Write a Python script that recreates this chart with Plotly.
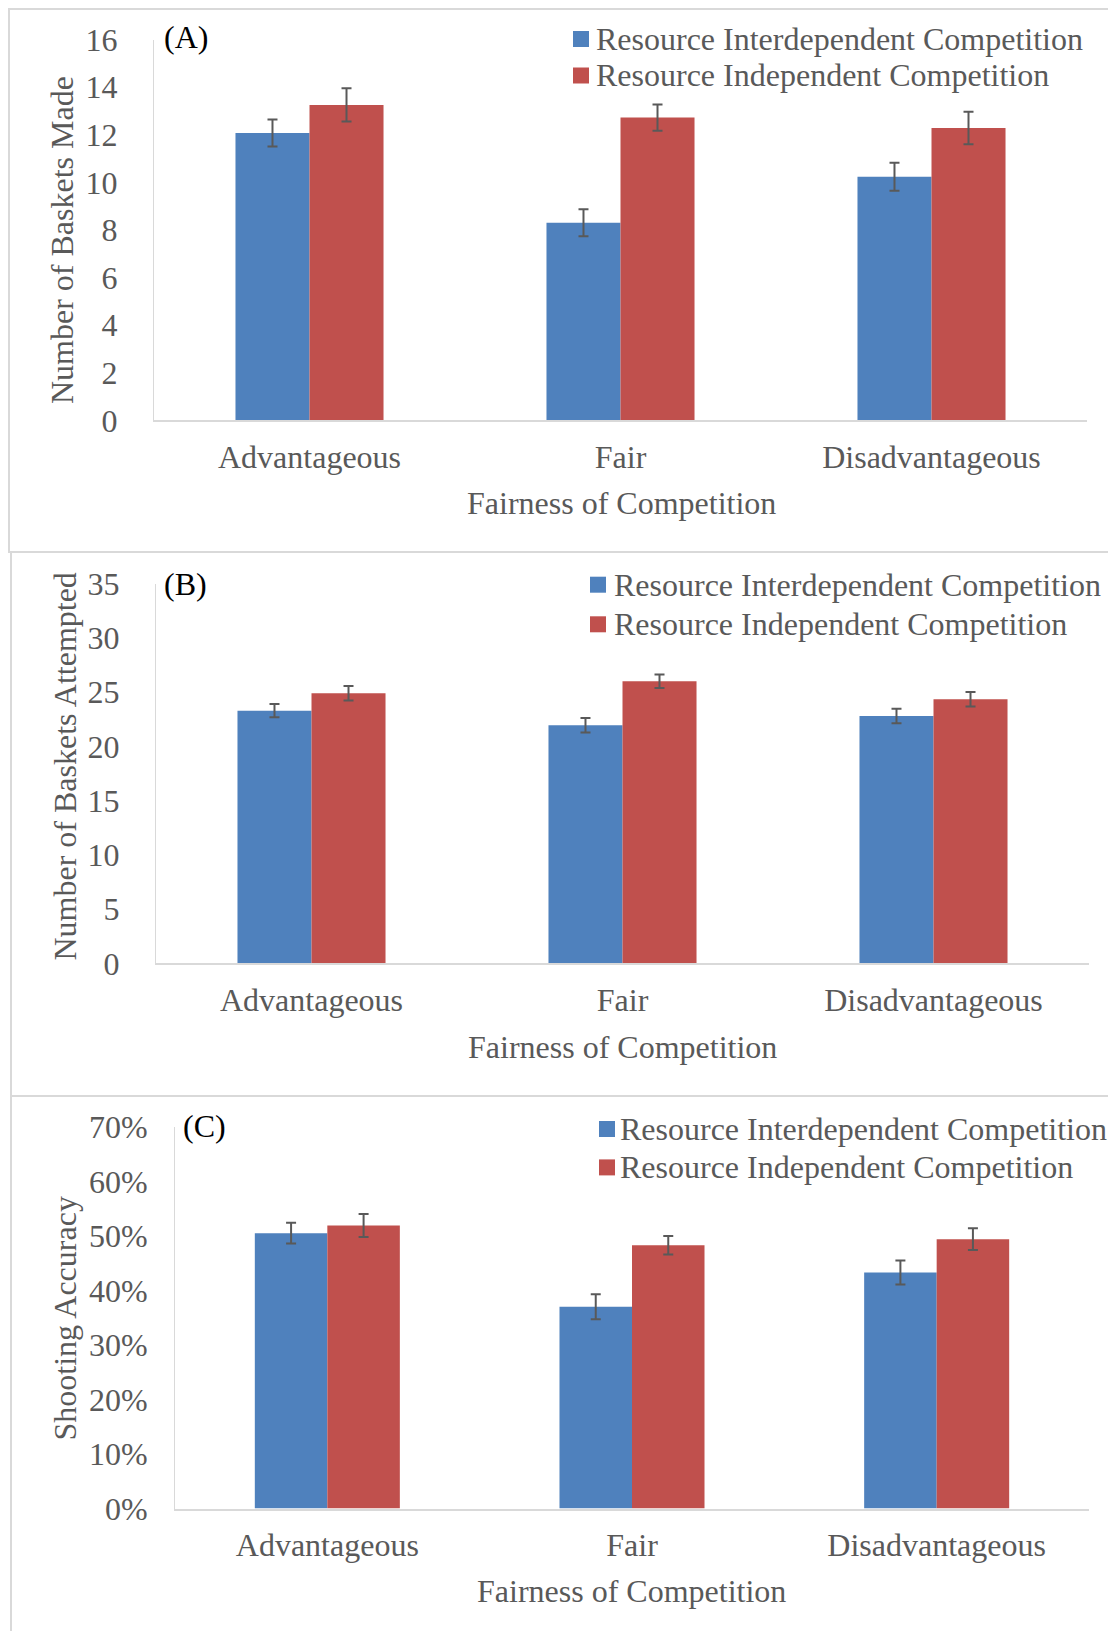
import plotly.graph_objects as go

# ---- data -------------------------------------------------------------
categories = ["Advantageous", "Fair", "Disadvantageous"]
series_names = ["Resource Interdependent Competition", "Resource Independent Competition"]
panel_labels = ["(A)", "(B)", "(C)"]
y_titles = ["Number of Baskets Made", "Number of Baskets Attempted", "Shooting Accuracy"]
x_title = "Fairness of Competition"

made_interdep = [12.07, 8.30, 10.23]
made_interdep_err = [0.57, 0.57, 0.59]
made_indep = [13.25, 12.72, 12.28]
made_indep_err = [0.70, 0.55, 0.68]

attempted_interdep = [23.3, 21.96, 22.8]
attempted_interdep_err = [0.6, 0.67, 0.67]
attempted_indep = [24.9, 26.0, 24.35]
attempted_indep_err = [0.67, 0.62, 0.67]

accuracy_interdep = [50.5, 37.0, 43.3]      # percent
accuracy_interdep_err = [1.9, 2.3, 2.2]
accuracy_indep = [51.9, 48.3, 49.4]
accuracy_indep_err = [2.1, 1.7, 2.0]

y_max = [16, 35, 70]
y_dtick = [2, 5, 10]
y_suffix = ["", "", "%"]

# ---- styling ----------------------------------------------------------
W, H = 1108, 1631
FONT = "Liberation Serif, Times New Roman, serif"
FS = 32
TEXT_GRAY = "#595959"
AXIS_GRAY = "#d9d9d9"
BLUE = "#4F81BD"
RED = "#C0504D"
COLORS = [BLUE, RED]


def px(x):
    return x / W


def py(y):
    return 1 - y / H


# plot-area boxes in pixels: (left, right, top, bottom)
boxes = [
    (154, 1087, 39.5, 420.3),
    (156, 1089, 583.7, 963.4),
    (175, 1089, 1126.8, 1508.6),
]
ytick_standoff = [29, 29, 20]

panels = [
    (made_interdep, made_interdep_err, made_indep, made_indep_err),
    (attempted_interdep, attempted_interdep_err, attempted_indep, attempted_indep_err),
    (accuracy_interdep, accuracy_interdep_err, accuracy_indep, accuracy_indep_err),
]

fig = go.Figure()

for i, (v1, e1, v2, e2) in enumerate(panels):
    suffix = "" if i == 0 else str(i + 1)
    for vals, errs, name, color in [(v1, e1, series_names[0], COLORS[0]),
                                    (v2, e2, series_names[1], COLORS[1])]:
        fig.add_trace(go.Bar(
            x=categories, y=vals, name=name,
            marker=dict(color=color, line=dict(width=0)),
            error_y=dict(type="data", array=errs, visible=True,
                         color=TEXT_GRAY, thickness=2, width=5),
            xaxis="x" + suffix, yaxis="y" + suffix,
            showlegend=False,
        ))

    left, right, top, bottom = boxes[i]
    fig.layout["xaxis" + suffix] = dict(
        domain=[px(left), px(right)], anchor="y" + suffix, automargin=False,
        showline=True, linecolor=AXIS_GRAY, linewidth=2,
        showgrid=False, zeroline=False, ticks="",
        tickfont=dict(family=FONT, size=FS, color=TEXT_GRAY),
        ticklabelstandoff=7,
    )
    fig.layout["yaxis" + suffix] = dict(
        domain=[py(bottom), py(top)], anchor="x" + suffix, automargin=False,
        range=[0, y_max[i]], dtick=y_dtick[i], ticksuffix=y_suffix[i],
        showline=True, linecolor=AXIS_GRAY, linewidth=1,
        showgrid=False, zeroline=False, ticks="",
        tickfont=dict(family=FONT, size=FS, color=TEXT_GRAY),
        ticklabelstandoff=ytick_standoff[i],
    )

# ---- titles, panel letters, legends -----------------------------------
annotations = []
y_title_pos = [(62, 240), (64.5, 767), (64.5, 1319)]
x_title_pos = [(621, 502.5), (622, 1046.6), (631.5, 1591)]
letter_pos = [(162, 37), (162, 583.5), (181, 1125.5)]
legend_swatch_x = [573, 590, 599]
legend_text_x = [594, 612, 618]
legend_rows = [(39, 75.5), (584.7, 624.3), (1129, 1167.4)]
SW = 16

shapes = []
for i in range(3):
    annotations.append(dict(
        x=px(y_title_pos[i][0]), y=py(y_title_pos[i][1]), xref="paper", yref="paper",
        text=y_titles[i], textangle=-90, showarrow=False,
        font=dict(family=FONT, size=FS, color=TEXT_GRAY),
        xanchor="center", yanchor="middle"))
    annotations.append(dict(
        x=px(x_title_pos[i][0]), y=py(x_title_pos[i][1]), xref="paper", yref="paper",
        text=x_title, showarrow=False,
        font=dict(family=FONT, size=FS, color=TEXT_GRAY),
        xanchor="center", yanchor="middle"))
    annotations.append(dict(
        x=px(letter_pos[i][0]), y=py(letter_pos[i][1]), xref="paper", yref="paper",
        text=panel_labels[i], showarrow=False,
        font=dict(family=FONT, size=FS, color="black"),
        xanchor="left", yanchor="middle"))
    for k in range(2):
        cy = legend_rows[i][k]
        sx = legend_swatch_x[i]
        shapes.append(dict(
            type="rect", xref="paper", yref="paper",
            x0=px(sx), x1=px(sx + SW), y0=py(cy + SW / 2), y1=py(cy - SW / 2),
            fillcolor=COLORS[k], line=dict(width=0)))
        annotations.append(dict(
            x=px(legend_text_x[i]), y=py(cy), xref="paper", yref="paper",
            text=series_names[k], showarrow=False,
            font=dict(family=FONT, size=FS, color=TEXT_GRAY),
            xanchor="left", yanchor="middle"))

# light gray frames around each chart panel
frames = [(9, 9, 552), (11, 552, 1096), (11, 1096, 1640)]
for x0, y0, y1 in frames:
    shapes.append(dict(
        type="rect", xref="paper", yref="paper",
        x0=px(x0), x1=px(W + 10), y0=py(y1), y1=py(y0),
        line=dict(color=AXIS_GRAY, width=2), fillcolor="rgba(0,0,0,0)",
        layer="below"))

fig.update_layout(
    width=W, height=H,
    margin=dict(l=0, r=0, t=0, b=0, pad=0, autoexpand=False),
    paper_bgcolor="white", plot_bgcolor="white",
    barmode="group", bargap=0.524, bargroupgap=0,
    showlegend=False,
    annotations=annotations, shapes=shapes,
    font=dict(family=FONT, color=TEXT_GRAY),
)

fig.write_html("out.html")
